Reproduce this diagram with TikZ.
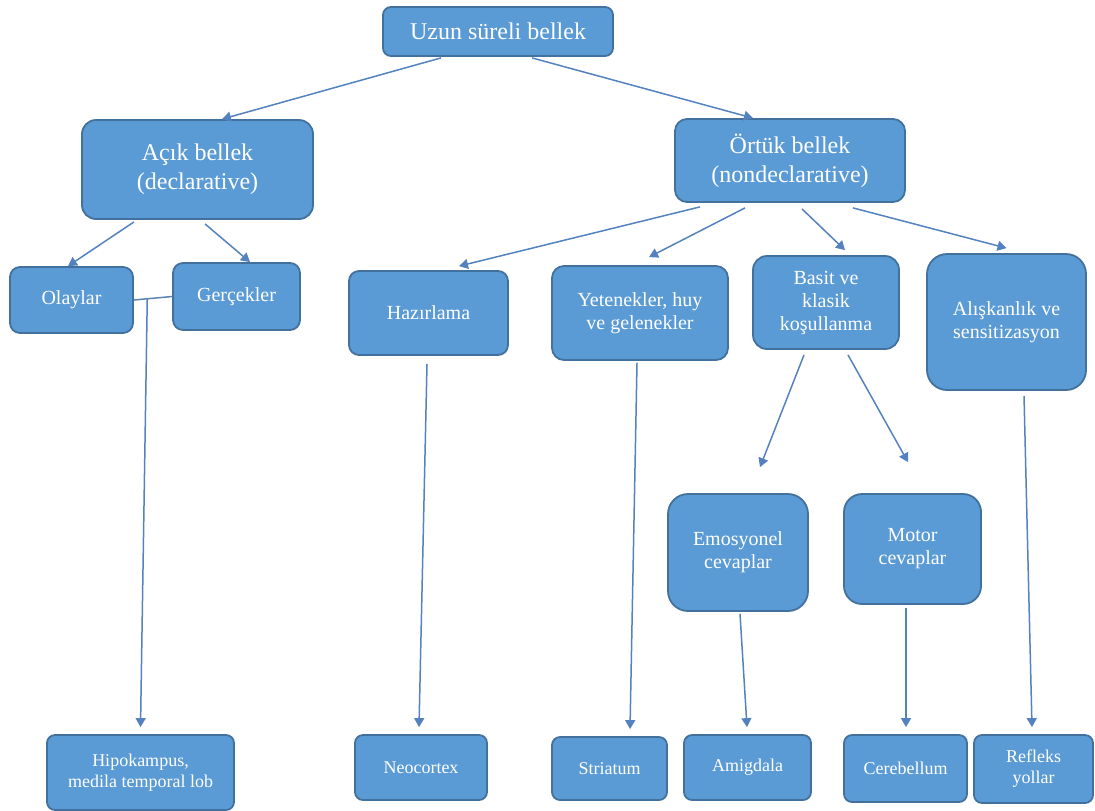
\documentclass[tikz,border=0pt]{standalone}
\usepackage{fontspec}
\setmainfont{Liberation Serif}
\usetikzlibrary{arrows.meta,calc}

\definecolor{boxblue}{RGB}{91,155,213}
\definecolor{boxedge}{RGB}{65,113,156}
\definecolor{linkblue}{RGB}{84,130,190}

\begin{document}
\begin{tikzpicture}[x=0.5pt, y=-0.5pt,
    mem/.style={draw=boxedge, fill=boxblue, line width=0.9pt, rounded corners=6pt, align=center, text=white, inner sep=2pt},
    bigmem/.style={mem, font=\fontsize{12}{14.5}\selectfont},
    midmem/.style={mem, font=\fontsize{10}{11.5}\selectfont},
    lowmem/.style={mem, font=\fontsize{9}{10.5}\selectfont, rounded corners=4pt},
    link/.style={draw=linkblue, line width=0.75pt, -{Triangle[width=5pt,length=4.5pt]}},
    tieline/.style={draw=linkblue!80!gray, line width=0.75pt}
]
    \useasboundingbox (0,0) rectangle (1095,810);

    % Top levels
    \node[bigmem, rounded corners=4pt, minimum width=115pt, minimum height=24.5pt] (ltm) at (498,31.5) {Uzun süreli bellek};
    \node[bigmem, rounded corners=7pt, minimum width=115.5pt, minimum height=49.5pt] (decl) at (197.5,169.5) {Açık bellek\\(declarative)};
    \node[bigmem, minimum width=115pt, minimum height=41.5pt] (nondecl) at (790,160.5) {Örtük bellek\\(nondeclarative)};

    % Middle row
    \node[midmem, rounded corners=5pt, minimum width=61.5pt, minimum height=33pt] (events) at (71.5,300) {Olaylar};
    \node[midmem, rounded corners=5pt, minimum width=63.5pt, minimum height=33.5pt] (facts) at (236.5,296.5) {Gerçekler};
    \node[midmem, rounded corners=5pt, minimum width=79.5pt, minimum height=42pt] (priming) at (428.5,313) {Hazırlama};
    \node[midmem, minimum width=88pt, minimum height=47pt] (skills) at (640,313) {Yetenekler, huy\\ve gelenekler};
    \node[midmem, rounded corners=7pt, minimum width=73pt, minimum height=46.5pt] (cond) at (826,302.5) {Basit ve\\klasik\\koşullanma};
    \node[midmem, rounded corners=10pt, minimum width=79.5pt, minimum height=68pt] (habit) at (1006.5,322) {Alışkanlık ve\\sensitizasyon};
    \node[midmem, rounded corners=10pt, minimum width=70pt, minimum height=58.5pt] (emot) at (738,552.5) {Emosyonel\\cevaplar};
    \node[midmem, rounded corners=9pt, minimum width=68.5pt, minimum height=55pt] (motor) at (912.5,549) {Motor\\cevaplar};

    % Brain regions
    \node[lowmem, minimum width=93.5pt, minimum height=37.5pt] (hipo) at (140.5,772.5) {Hipokampus,\\medila temporal lob};
    \node[lowmem, minimum width=66pt, minimum height=32.5pt] (neocortex) at (421,767.5) {Neocortex};
    \node[lowmem, minimum width=57.5pt, minimum height=31.5pt] (striatum) at (609.5,768.5) {Striatum};
    \node[lowmem, minimum width=63.5pt, minimum height=32.5pt] (amygdala) at (747.5,767.5) {Amigdala};
    \node[lowmem, minimum width=61.5pt, minimum height=33.5pt] (cerebellum) at (905.5,768.5) {Cerebellum};
    \node[lowmem, minimum width=59.5pt, minimum height=34pt] (reflex) at (1033.5,769) {Refleks\\yollar};

    % Branches
    \draw[link] ([xshift=-28.5pt,yshift=-0.5pt]ltm.south) -- ([xshift=12.25pt]decl.north);
    \draw[link] ([xshift=17pt,yshift=-0.5pt]ltm.south) -- ([xshift=-18.5pt]nondecl.north);
    \draw[link] ([xshift=-31.75pt,yshift=-1pt]decl.south) -- ([xshift=-1.75pt]events.north);
    \draw[link] ([xshift=3.75pt,yshift=-2pt]decl.south) -- ([xshift=6.75pt]facts.north);
    \draw[link] ([xshift=-45pt,yshift=-2pt]nondecl.south) -- ([xshift=15.25pt,yshift=2pt]priming.north);
    \draw[link] ([xshift=-22.5pt,yshift=-2.5pt]nondecl.south) -- ([xshift=4.5pt,yshift=4pt]skills.north);
    \draw[link] ([xshift=6pt,yshift=-3pt]nondecl.south) -- ([xshift=9.5pt,yshift=2.5pt]cond.north);
    \draw[link] ([xshift=31.5pt,yshift=-2.5pt]nondecl.south) -- ([yshift=2.5pt]habit.north);
    \draw[link] ([xshift=-11pt,yshift=-2.5pt]cond.south) -- ([xshift=11pt,yshift=13pt]emot.north);
    \draw[link] ([xshift=11pt,yshift=-2.5pt]cond.south) -- ([xshift=-2.25pt,yshift=15.5pt]motor.north);

    % Declarative to hippocampus
    \draw[tieline] (events.east) -- (facts.west);
    \coordinate (split) at ($(events.east)!0.35!(facts.west)$);
    \draw[link] (split) -- ([yshift=3.5pt]hipo.north);

    % Down to brain regions
    \foreach \src/\dst/\xs/\ys/\xd in {priming/neocortex/-0.75/-4/-1, skills/striatum/-1.5/-1/10.25, emot/amygdala/1/-1/-0.25, motor/cerebellum/-3.25/-1.5/0.25, habit/reflex/8.75/-2.5/-0.75} {
        \draw[link] ([xshift=\xs pt,yshift=\ys pt]\src.south) -- ([xshift=\xd pt,yshift=3.5pt]\dst.north);
    }

\end{tikzpicture}
\end{document}
